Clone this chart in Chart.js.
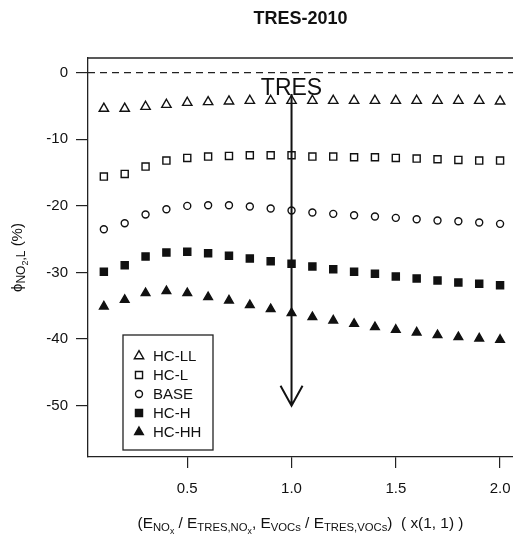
<!DOCTYPE html>
<html>
<head>
<meta charset="utf-8">
<script src="https://cdn.jsdelivr.net/npm/chart.js@4.4.0/dist/chart.umd.min.js"></script>
<style>
  body { margin: 0; background: #fff; }
  #wrap { width: 513px; height: 535px; }
</style>
</head>
<body>
<div id="wrap"><canvas id="chart" width="513" height="535"></canvas></div>
<script>
// emission scaling factor (NOx and VOCs scaled together)
var emissionScale = [0.1, 0.2, 0.3, 0.4, 0.5, 0.6, 0.7, 0.8, 0.9, 1.0,
                     1.1, 1.2, 1.3, 1.4, 1.5, 1.6, 1.7, 1.8, 1.9, 2.0];

// phi NO2,L (%) per scenario
var hcLL = [-5.4, -5.4, -5.1, -4.8, -4.5, -4.4, -4.3, -4.2, -4.2, -4.2,
            -4.2, -4.2, -4.2, -4.2, -4.2, -4.2, -4.2, -4.2, -4.2, -4.3];
var hcL  = [-15.6, -15.2, -14.1, -13.2, -12.8, -12.6, -12.5, -12.4, -12.4, -12.4,
            -12.6, -12.6, -12.7, -12.7, -12.8, -12.9, -13.0, -13.1, -13.2, -13.2];
var base = [-23.5, -22.6, -21.3, -20.5, -20.0, -19.9, -19.9, -20.1, -20.4, -20.7,
            -21.0, -21.2, -21.4, -21.6, -21.8, -22.0, -22.2, -22.3, -22.5, -22.7];
var hcH  = [-29.9, -28.9, -27.6, -27.0, -26.9, -27.1, -27.5, -27.9, -28.3, -28.7,
            -29.1, -29.5, -29.9, -30.2, -30.6, -30.9, -31.2, -31.5, -31.7, -31.9];
var hcHH = [-35.1, -34.1, -33.1, -32.8, -33.1, -33.7, -34.2, -34.9, -35.5, -36.1,
            -36.7, -37.2, -37.7, -38.2, -38.6, -39.0, -39.4, -39.7, -39.9, -40.1];

var seriesNames = ['HC-LL', 'HC-L', 'BASE', 'HC-H', 'HC-HH'];
var xTicks = [0.5, 1.0, 1.5, 2.0];
var yTicks = [0, -10, -20, -30, -40, -50];

// TRES reference marker
var tresX = 1.0;
var tresTop = -3.2;
var tresBottom = -50;

var FONT = 'Liberation Sans, Arial, Helvetica, sans-serif';
Chart.defaults.font.family = FONT;
Chart.defaults.color = '#111';

function points(values) {
    return values.map(function (v, i) { return { x: emissionScale[i], y: v }; });
}

function makeSet(label, values, style, filled, radius) {
    return {
        label: label,
        data: points(values),
        pointStyle: style,
        pointRadius: radius,
        pointBorderWidth: 1.4,
        borderColor: '#111',
        backgroundColor: filled ? '#111' : 'rgba(0,0,0,0)',
        showLine: false
    };
}

// draws text with subscript levels: parts = [[text, level], ...]
function drawRich(ctx, parts, cx, baseY, sizes, drops) {
    var total = 0;
    parts.forEach(function (p) {
        ctx.font = sizes[p[1]] + 'px ' + FONT;
        p.w = ctx.measureText(p[0]).width;
        total += p.w;
    });
    var x = cx - total / 2;
    ctx.textAlign = 'left';
    ctx.textBaseline = 'alphabetic';
    parts.forEach(function (p) {
        ctx.font = sizes[p[1]] + 'px ' + FONT;
        ctx.fillText(p[0], x, baseY + drops[p[1]]);
        x += p.w;
    });
}

var decor = {
    id: 'decor',
    beforeDatasetsDraw: function (chart) {
        var ctx = chart.ctx, area = chart.chartArea;
        var y0 = chart.scales.y.getPixelForValue(0);
        ctx.save();
        ctx.strokeStyle = '#222';
        ctx.lineWidth = 1.2;
        ctx.setLineDash([7, 5]);
        ctx.beginPath();
        ctx.moveTo(area.left, y0);
        ctx.lineTo(area.right, y0);
        ctx.stroke();
        ctx.restore();
    },
    afterDatasetsDraw: function (chart) {
        var ctx = chart.ctx, area = chart.chartArea;
        var xs = chart.scales.x, ys = chart.scales.y;
        ctx.save();

        // top frame line
        ctx.strokeStyle = '#222';
        ctx.lineWidth = 1.3;
        ctx.beginPath();
        ctx.moveTo(area.left, area.top);
        ctx.lineTo(area.right, area.top);
        ctx.stroke();

        // TRES arrow
        var ax = xs.getPixelForValue(tresX);
        var a1 = ys.getPixelForValue(tresTop);
        var a2 = ys.getPixelForValue(tresBottom);
        ctx.strokeStyle = '#111';
        ctx.lineWidth = 2;
        ctx.beginPath();
        ctx.moveTo(ax, a1);
        ctx.lineTo(ax, a2);
        ctx.moveTo(ax - 11, a2 - 20);
        ctx.lineTo(ax, a2);
        ctx.lineTo(ax + 11, a2 - 20);
        ctx.stroke();

        ctx.fillStyle = '#111';
        ctx.font = '23px ' + FONT;
        ctx.textAlign = 'center';
        ctx.textBaseline = 'alphabetic';
        ctx.fillText('TRES', ax, a1 + 1);

        // legend box
        var lx = area.left + 35, ly = 335, lw = 90, lh = 115;
        ctx.fillStyle = '#fff';
        ctx.fillRect(lx, ly, lw, lh);
        ctx.strokeStyle = '#222';
        ctx.lineWidth = 1.3;
        ctx.strokeRect(lx, ly, lw, lh);
        chart.data.datasets.forEach(function (ds, i) {
            var rowY = ly + 21 + i * 19;
            ctx.fillStyle = ds.backgroundColor;
            ctx.strokeStyle = ds.borderColor;
            ctx.lineWidth = ds.pointBorderWidth;
            Chart.helpers.drawPoint(ctx, {
                pointStyle: ds.pointStyle,
                radius: ds.pointRadius,
                borderWidth: ds.pointBorderWidth,
                rotation: 0
            }, lx + 16, rowY);
            ctx.fillStyle = '#111';
            ctx.font = '15px ' + FONT;
            ctx.textAlign = 'left';
            ctx.textBaseline = 'middle';
            ctx.fillText(ds.label, lx + 30, rowY + 1);
        });

        // axis titles
        ctx.fillStyle = '#111';
        var cx = (area.left + area.right) / 2;
        drawRich(ctx, [
            ['(E', 0], ['NO', 1], ['x', 2], [' / E', 0], ['TRES,NO', 1], ['x', 2],
            [', E', 0], ['VOCs', 1], [' / E', 0], ['TRES,VOCs', 1], [')  ( x(1, 1) )', 0]
        ], cx, 528, [15.4, 11.3, 8.7], [0, 3, 6]);

        ctx.translate(22, (area.top + area.bottom) / 2);
        ctx.rotate(-Math.PI / 2);
        drawRich(ctx, [
            ['\u03D5', 0], ['NO', 1], ['2', 2], [',L', 1], [' (%)', 0]
        ], 0, 0, [15, 12, 9], [0, 3, 6]);

        ctx.restore();
    }
};

var ctx = document.querySelector('#chart').getContext('2d');
var phiChart = new Chart(ctx, {
    type: 'scatter',
    data: {
        datasets: [
            makeSet(seriesNames[0], hcLL, 'triangle', false, 5.4),
            makeSet(seriesNames[1], hcL, 'rect', false, 5),
            makeSet(seriesNames[2], base, 'circle', false, 3.5),
            makeSet(seriesNames[3], hcH, 'rect', true, 5),
            makeSet(seriesNames[4], hcHH, 'triangle', true, 5)
        ]
    },
    options: {
        responsive: false,
        animation: false,
        events: [],
        layout: { padding: 0, autoPadding: false },
        scales: {
            x: {
                type: 'linear',
                min: 0.024,
                max: 2.062,
                afterBuildTicks: function (scale) {
                    scale.ticks = xTicks.map(function (v) { return { value: v }; });
                },
                afterFit: function (scale) {
                    scale.height = 78;
                    scale.paddingLeft = 0;
                    scale.paddingRight = 0;
                },
                ticks: {
                    font: { size: 15 },
                    padding: 12,
                    maxRotation: 0,
                    callback: function (v) { return v.toFixed(1); }
                },
                grid: { drawOnChartArea: false, drawTicks: true, tickLength: 11, color: '#222', lineWidth: 1.2 },
                border: { display: true, color: '#222', width: 1.3 }
            },
            y: {
                min: -57.7,
                max: 2.2,
                afterBuildTicks: function (scale) {
                    scale.ticks = yTicks.map(function (v) { return { value: v }; });
                },
                afterFit: function (scale) {
                    scale.width = 88;
                    scale.paddingTop = 0;
                    scale.paddingBottom = 0;
                },
                ticks: {
                    font: { size: 15 },
                    padding: 8,
                    callback: function (v) { return String(v); }
                },
                grid: { drawOnChartArea: false, drawTicks: true, tickLength: 12, color: '#222', lineWidth: 1.2 },
                border: { display: true, color: '#222', width: 1.3 }
            }
        },
        plugins: {
            legend: { display: false },
            tooltip: { enabled: false },
            title: {
                display: true,
                text: 'TRES-2010',
                fullSize: false,
                color: '#111',
                font: { size: 18, weight: 'bold' },
                padding: { top: 8, bottom: 28.4 }
            }
        }
    },
    plugins: [decor]
});
</script>
</body>
</html>
